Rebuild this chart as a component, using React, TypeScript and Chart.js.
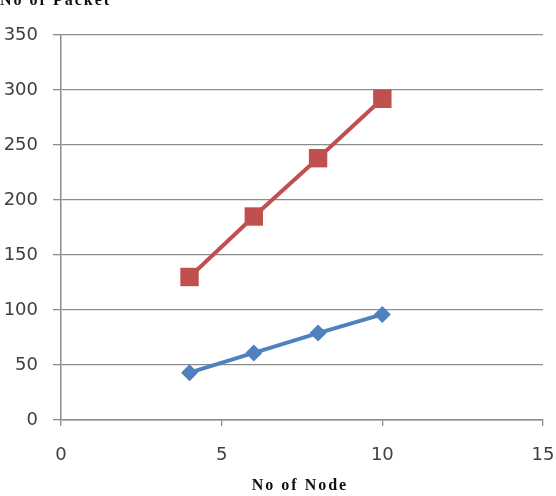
import React, { useEffect, useRef } from "react";
import { Chart, registerables } from "chart.js";

Chart.register(...registerables);

const nodes = [4, 6, 8, 10];
const packetsRed = [130, 185, 238, 292];
const packetsBlue = [43, 61, 79, 96];
const xTitle = "No of Node";
const yTitle = "No of Packet";

const titlePlugin = {
  id: "titles",
  afterDraw(chart: any) {
    const ctx = chart.ctx;
    ctx.save();
    ctx.fillStyle = "#111";
    ctx.font = "bold 16px 'Liberation Serif'";
    try { (ctx as any).letterSpacing = "2px"; } catch (e) {}
    ctx.textBaseline = "alphabetic";
    ctx.textAlign = "center";
    ctx.fillText(xTitle, 300, 490);
    ctx.textAlign = "left";
    ctx.fillText(yTitle, 0, 5);
    ctx.restore();
  },
};

export default function App() {
  const ref = useRef<HTMLCanvasElement | null>(null);
  useEffect(() => {
    if (!ref.current) return;
    const grid = "#8c8c8c";
    const tickFont = { family: "'DejaVu Sans'", size: 18 };
    const chart = new Chart(ref.current, {
      type: "line",
      data: {
        datasets: [
          {
            label: "A",
            data: nodes.map((x, i) => ({ x, y: packetsBlue[i] })),
            borderColor: "#4F81BD",
            backgroundColor: "#4F81BD",
            borderWidth: 4,
            pointStyle: "rectRot",
            pointRadius: 8.5,
            pointBorderWidth: 0,
          },
          {
            label: "B",
            data: nodes.map((x, i) => ({ x, y: packetsRed[i] })),
            borderColor: "#C0504D",
            backgroundColor: "#C0504D",
            borderWidth: 4,
            pointStyle: "rect",
            pointRadius: 13,
            pointBorderWidth: 0,
          },
        ],
      },
      options: {
        responsive: false,
        animation: false,
        layout: { padding: { top: 35, right: 8, left: 0, bottom: 0 } },
        plugins: { legend: { display: false }, tooltip: { enabled: false } },
        scales: {
          x: {
            type: "linear",
            min: 0,
            max: 15,
            ticks: { stepSize: 5, font: tickFont, color: "#404040", padding: 19, maxRotation: 0 },
            grid: { drawOnChartArea: false, tickLength: 6, color: grid, lineWidth: 1.3 },
            border: { color: grid, width: 1.5 },
            afterFit(scale: any) {
              scale.height = 76;
              scale.paddingLeft = 0;
              scale.paddingRight = 0;
            },
          },
          y: {
            min: 0,
            max: 350,
            ticks: { stepSize: 50, font: tickFont, color: "#404040", padding: 15 },
            grid: { tickLength: 8, color: grid, lineWidth: 1.3 },
            border: { color: grid, width: 1.5 },
            afterFit(scale: any) {
              scale.width = 61;
              scale.paddingTop = 0;
              scale.paddingBottom = 0;
            },
          },
        },
      },
      plugins: [titlePlugin],
    } as any);
    return () => chart.destroy();
  }, []);
  return (
    <div style={{ position: "absolute", left: 0, top: 0, width: 556, height: 496, background: "#fff" }}>
      <canvas ref={ref} width={556} height={496} />
    </div>
  );
}
